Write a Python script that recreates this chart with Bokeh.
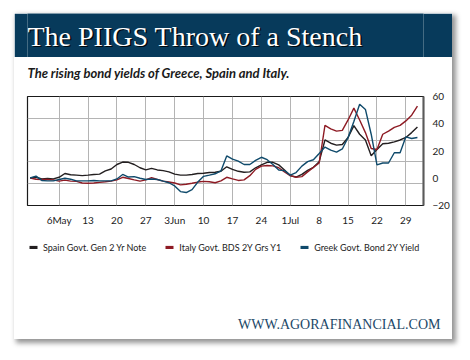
import pandas as pd
from bokeh.plotting import figure
from bokeh.layouts import column
from bokeh.models import Label, FixedTicker, Legend, LegendItem, Range1d, Title
from bokeh.embed import file_html
from bokeh.resources import INLINE

# ---- data (percent change, trading days) ----
dates = pd.bdate_range("2013-04-29", "2013-07-31")
spain = [0.2, 0.7, -0.5, -0.2, -0.5, 0.7, 3.5, 2.6, 2.3, 1.9,
         2.3, 2.8, 3.0, 5.4, 6.8, 10.1, 11.9, 11.7, 10.1, 7.7,
         6.1, 7.3, 6.1, 5.6, 4.7, 3.0, 2.3, 2.3, 2.8, 3.5,
         3.7, 4.2, 4.4, 5.1, 8.4, 6.5, 5.1, 4.4, 4.7, 7.7,
         9.8, 11.7, 11.7, 9.8, 6.1, 1.9, 0.9, 2.8, 5.8, 8.0,
         12.2, 28.1, 25.7, 24.3, 24.8, 29.9, 38.6, 32.3, 28.1, 16.5,
         21.1, 25.3, 25.7, 26.7, 28.1, 29.9, 33.5, 37.7]
italy = [0.2, -0.7, -0.9, -0.9, -1.2, -2.1, -1.4, -2.1, -2.3, -3.5,
         -3.7, -3.5, -3.0, -2.6, -2.1, -1.2, 0.7, -0.2, -1.2, -2.1,
         -1.2, 0.5, -0.9, -2.1, -2.8, -3.5, -4.9, -4.4, -3.7, -2.8,
         -2.3, -2.6, -3.3, -1.9, 0.7, -0.5, -1.6, -1.2, 1.9, 6.5,
         8.9, 9.4, 9.1, 7.7, 4.7, 1.9, 0.7, 1.2, 4.7, 8.0,
         11.2, 38.8, 36.3, 34.6, 35.1, 42.8, 51.5, 42.8, 33.5, 21.8,
         21.1, 32.3, 34.6, 37.4, 38.8, 42.1, 46.3, 52.9]
greece = [0.2, 1.6, -1.6, -1.9, -1.9, -0.9, 0.0, -0.7, -1.9, -1.9,
          -1.9, -1.6, -1.9, -1.9, -1.9, -0.5, 2.8, 0.9, 1.2, 0.0,
          -0.9, -0.5, -0.9, -2.1, -3.3, -5.6, -9.8, -10.5, -8.4, -2.8,
          1.4, 2.3, 3.3, 5.4, 16.4, 14.0, 12.6, 10.1, 10.1, 13.1,
          15.4, 13.6, 10.1, 6.1, 5.6, 2.3, 4.2, 8.9, 12.2, 13.6,
          18.2, 22.9, 20.6, 19.2, 21.5, 29.9, 41.6, 54.3, 50.5, 32.3,
          9.8, 11.2, 11.2, 18.7, 18.7, 30.4, 29.2, 29.9]
series_names = ["Spain Govt. Gen 2 Yr Note", "Italy Govt. BDS 2Y Grs Y1",
                "Greek Govt. Bond 2Y Yield"]
series_colors = ["#231f20", "#8e1b24", "#0f4a6b"]
tick_dates = ["2013-05-06", "2013-05-13", "2013-05-20", "2013-05-27", "2013-06-03",
              "2013-06-10", "2013-06-17", "2013-06-24", "2013-07-01", "2013-07-08",
              "2013-07-15", "2013-07-22", "2013-07-29"]
tick_labels = ["6May", "13", "20", "27", "3Jun", "10", "17", "24", "1Jul", "8",
               "15", "22", "29"]
y_ticks = [-20, 0, 20, 40, 60]
y_grid = [-4, 12, 28, 44]
title_text = "The PIIGS Throw of a Stench"
subtitle_text = "The rising bond yields of Greece, Spain and Italy."
footer_text = "WWW.AGORAFINANCIAL.COM"

x = list(range(len(dates)))
date_index = {d.strftime("%Y-%m-%d"): i for i, d in enumerate(dates)}
tick_pos = [date_index[d] for d in tick_dates]

CW = 438          # card width
BL, BR = 13, 29   # frame insets shared by all stacked figures
FW = CW - BL - BR
NAVY = "#073a5b"


def strip(h, fill="white", bottom=0):
    f = figure(width=CW, height=h, output_backend="svg", toolbar_location=None,
               title=None,
               x_range=Range1d(0, FW), y_range=Range1d(0, h - bottom),
               x_axis_type=None, y_axis_type=None,
               min_border_left=BL, min_border_right=BR, min_border_top=0,
               min_border_bottom=bottom)
    f.grid.visible = False
    f.outline_line_color = None
    f.background_fill_color = fill
    f.border_fill_color = fill
    return f


# ---- header band ----
band = strip(44, NAVY)
band.add_layout(Label(x=1.5, y=20, text=title_text, text_font="Liberation Serif",
                      text_font_size="28px", text_color="black", text_alpha=0.85,
                      text_baseline="middle"))
band.add_layout(Label(x=0, y=21.5, text=title_text, text_font="Liberation Serif",
                      text_font_size="28px", text_color="white",
                      text_baseline="middle"))

# ---- subtitle ----
sub = strip(31)
sub.add_layout(Label(x=0, y=16, text=subtitle_text, text_font="Lato",
                     text_font_size="13px", text_font_style="bold italic",
                     text_color="#1a1a1a", text_baseline="middle"))

# ---- main chart ----
p = figure(width=CW, height=140, output_backend="svg", toolbar_location=None,
           title=None,
           x_range=Range1d(-0.47, 68.05), y_range=Range1d(-20, 60),
           y_axis_location="right",
           min_border_left=BL, min_border_right=BR, min_border_top=8,
           min_border_bottom=18)
p.background_fill_color = "white"
p.border_fill_color = "white"
p.outline_line_color = "#1a1a1a"
p.outline_line_width = 1.2

for ys, c in zip([spain, italy, greece], series_colors):
    p.line(x, ys, line_color=c, line_width=1.4)

p.xaxis.ticker = FixedTicker(ticks=tick_pos)
p.xaxis.major_label_overrides = {t: l for t, l in zip(tick_pos, tick_labels)}
p.xaxis.major_tick_line_color = None
p.xaxis.minor_tick_line_color = None
p.xaxis.axis_line_color = None
p.xaxis.major_label_standoff = 2
p.xaxis.major_label_text_font = "Lato"
p.xaxis.major_label_text_font_size = "10px"
p.xaxis.major_label_text_color = "#222222"

p.yaxis.ticker = FixedTicker(ticks=y_ticks)
p.yaxis.major_tick_line_color = None
p.yaxis.minor_tick_line_color = None
p.yaxis.axis_line_color = "#5a5a5a"
p.yaxis.axis_line_width = 2
p.yaxis.major_label_standoff = 3
p.yaxis.major_label_text_font = "Lato"
p.yaxis.major_label_text_font_size = "10px"
p.yaxis.major_label_text_color = "#222222"

p.xgrid.ticker = FixedTicker(ticks=tick_pos)
p.ygrid.ticker = FixedTicker(ticks=y_grid)
p.grid.grid_line_color = "#b4b4b4"
p.grid.grid_line_width = 1

# ---- footer with legend and site name ----
FH, FB = 111, 25
foot = strip(FH, bottom=FB)
nan = float("nan")
swatches = [foot.quad(left=[nan], right=[nan], top=[nan], bottom=[nan], fill_color=c,
                      line_color=None) for c in series_colors]
legend = Legend(items=[LegendItem(label=n, renderers=[s]) for n, s in zip(series_names, swatches)],
                orientation="horizontal", location=(1, FH - FB - 25), padding=0, margin=0,
                spacing=18, glyph_width=10, glyph_height=4, label_standoff=5,
                label_text_font="Lato", label_text_font_size="9px",
                label_text_color="#222222", label_height=12,
                background_fill_alpha=0, border_line_color=None)
foot.add_layout(legend, "center")
foot.add_layout(Title(text=footer_text, align="right", offset=-17, standoff=0,
                      text_font="Liberation Serif", text_font_size="14px",
                      text_font_style="normal", text_color="#1c4868"), "below")

card = column(band, sub, p, foot, spacing=0,
              styles={"position": "relative", "left": "14px", "top": "13px",
                      "box-shadow": "3px 3px 5px 1px rgba(0,0,0,0.42)",
                      "background-color": "white"})

open("out.html", "w").write(file_html(card, INLINE))
